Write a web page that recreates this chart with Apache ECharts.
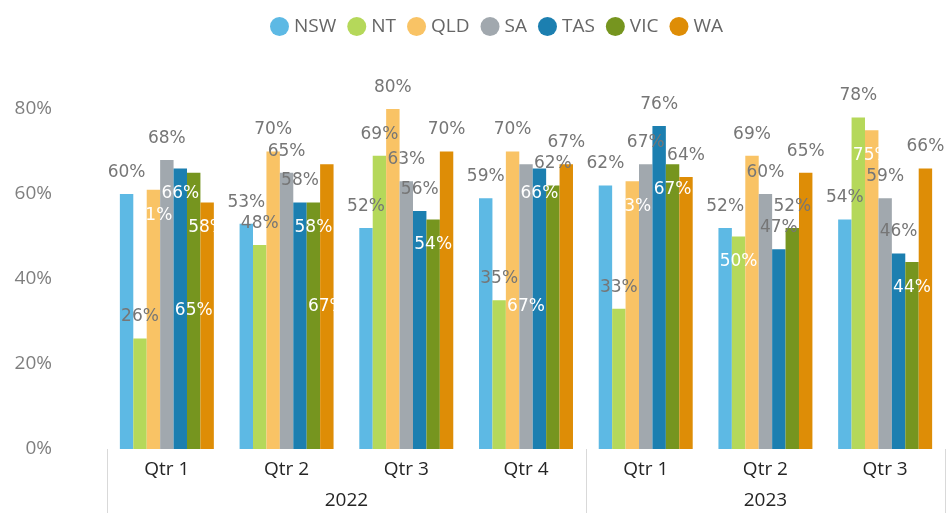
<!DOCTYPE html>
<html>
<head>
<meta charset="utf-8">
<script src="https://cdn.jsdelivr.net/npm/echarts@6/dist/echarts.min.js"></script>
<style>
html,body{margin:0;padding:0;background:#fff;}
#chart{width:947px;height:513px;}
</style>
</head>
<body>
<div id="chart"></div>
<script>
// ---- data ----
const categories = ['Qtr 1','Qtr 2','Qtr 3','Qtr 4','Qtr 1','Qtr 2','Qtr 3'];
const years = ['2022','2023'];
const yearSpans = [4, 3];
const seriesNames = ['NSW','NT','QLD','SA','TAS','VIC','WA'];
const NSW = [60, 53, 52, 59, 62, 52, 54];
const NT  = [26, 48, 69, 35, 33, 50, 78];
const QLD = [61, 70, 80, 70, 63, 69, 75];
const SA  = [68, 65, 63, 67, 67, 60, 59];
const TAS = [66, 58, 56, 66, 76, 47, 46];
const VIC = [65, 58, 54, 62, 67, 52, 44];
const WA  = [58, 67, 70, 67, 64, 65, 66];
const yTicks = [0, 20, 40, 60, 80];

// label placement (T = above bar, I = inside top, C = inside centre)
const labelPlacement = {
  NSW: 'TTTTTTT',
  NT:  'TTTTTIT',
  QLD: 'ITTTITI',
  SA:  'TTTCTTT',
  TAS: 'ITTITTT',
  VIC: 'CIITITI',
  WA:  'ICTTTTT'
};

const values = {NSW, NT, QLD, SA, TAS, VIC, WA};
const colors = ['#5DB9E4','#B5D85A','#F9C365','#A1A8AE','#1C7FB0','#76951F','#DE8D06'];

const labelFont = {fontFamily:'DejaVu Sans', fontSize:17};
function labelFor(code){
  if (code === 'T') return Object.assign({show:true, position:'top', distance:13, color:'#767676'}, labelFont);
  if (code === 'I') return Object.assign({show:true, position:'insideTop', distance:17, color:'#ffffff'}, labelFont);
  return Object.assign({show:true, position:'inside', color:'#ffffff'}, labelFont);
}

// year axis positions derived from spans
const yearCenters = [], yearBounds = [0];
let acc = 0;
yearSpans.forEach(s => { yearCenters.push(acc + s/2); acc += s; yearBounds.push(acc); });

const series = seriesNames.map((name, si) => ({
  name,
  type: 'bar',
  xAxisIndex: 0,
  yAxisIndex: 0,
  barGap: '0%',
  barCategoryGap: '21.5%',
  clip: false,
  itemStyle: {color: colors[si]},
  label: Object.assign({show:true, formatter:'{c}%'}, labelFont),
  data: values[name].map((v, i) => ({value: v, label: Object.assign({formatter:'{c}%'}, labelFor(labelPlacement[name][i]))}))
}));

const chart = echarts.init(document.getElementById('chart'), null, {renderer:'canvas'});
chart.setOption({
  animation: false,
  color: colors,
  legend: {
    top: 12,
    left: 265,
    icon: 'circle',
    itemWidth: 19,
    itemHeight: 19,
    itemGap: 11,
    textStyle: {fontFamily:'Open Sans', fontSize:19, color:'#666666'},
    data: seriesNames
  },
  grid: {left:107, right:2, top:109, bottom:64, containLabel:false},
  xAxis: [
    {
      type: 'category',
      data: categories,
      position: 'bottom',
      axisLine: {show:false},
      axisTick: {show:false},
      axisLabel: {margin:11, fontFamily:'Open Sans', fontSize:19, color:'#252525'}
    },
    {
      type: 'value',
      position: 'bottom',
      min: 0,
      max: yearBounds[yearBounds.length-1],
      splitLine: {show:false},
      axisLine: {show:false},
      axisTick: {show:true, customValues: yearBounds, length:64, inside:false, lineStyle:{color:'#d9d9d9', width:1}},
      axisLabel: {
        customValues: yearCenters,
        margin: 42,
        fontFamily:'Open Sans', fontSize:19, color:'#252525',
        formatter: v => { const k = yearCenters.indexOf(v); return k >= 0 ? years[k] : ''; }
      }
    }
  ],
  yAxis: {
    type: 'value',
    min: yTicks[0],
    max: yTicks[yTicks.length-1],
    interval: yTicks[1]-yTicks[0],
    splitLine: {show:false},
    axisLine: {show:false},
    axisTick: {show:false},
    axisLabel: {margin:55, fontFamily:'Open Sans', fontSize:19, color:'#7f7f7f', formatter:'{value}%'}
  },
  series
});
</script>
</body>
</html>
